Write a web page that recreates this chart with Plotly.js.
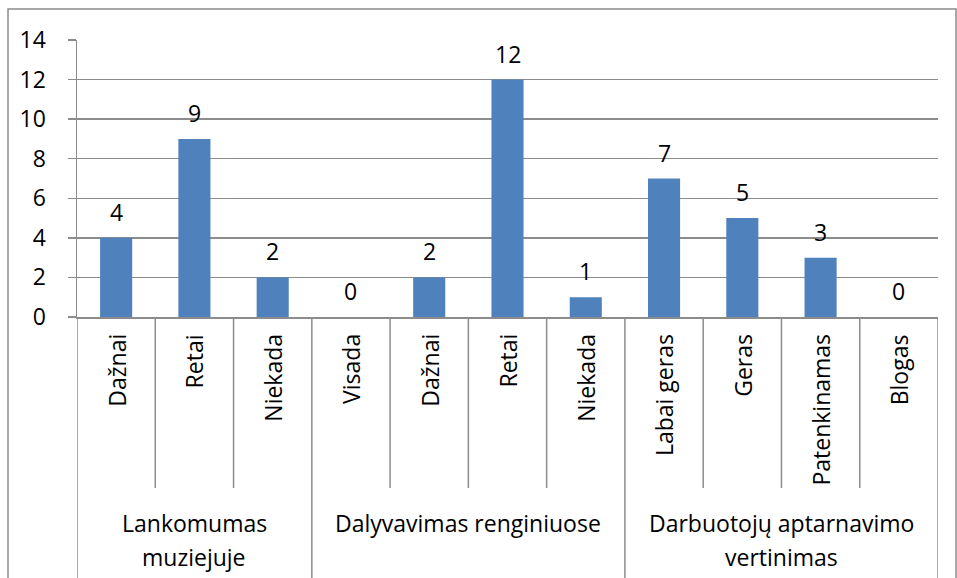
<!DOCTYPE html>
<html><head><meta charset="utf-8">
<script src="https://cdn.plot.ly/plotly-3.0.1.min.js"></script>
<style>html,body{margin:0;padding:0;background:#fff}#c{width:957px;height:578px}</style>
</head><body><div id="c"></div>
<script>
const categories = ["Dažnai","Retai","Niekada","Visada","Dažnai","Retai","Niekada","Labai geras","Geras","Patenkinamas","Blogas"];
const values = [4,9,2,0,2,12,1,7,5,3,0];
const groups = ["Lankomumas<br>muziejuje","Dalyvavimas renginiuose","Darbuotojų aptarnavimo<br>vertinimas"];
const groupSizes = [3,4,4];
const yTicks = [0,2,4,6,8,10,12,14];

const FONT = "'Open Sans', sans-serif";
const GRAY = "#8c8c8c";
const FS = 23;
const xs = categories.map((_, i) => i);
const py = px => (317 - px) / 277;

const annotations = [];
const shapes = [];
values.forEach((v, i) => annotations.push({x: i, y: v, xref: 'x', yref: 'y', text: String(v), showarrow: false, yanchor: 'bottom', yshift: 8, font: {family: FONT, size: FS, color: '#000'}}));
categories.forEach((c, i) => annotations.push({x: i, y: py(332), xref: 'x', yref: 'paper', text: c, textangle: -90, showarrow: false, xanchor: 'center', yanchor: 'top', font: {family: FONT, size: FS, color: '#000'}}));
let start = 0;
groups.forEach((g, k) => {
  const end = start + groupSizes[k];
  g.split('<br>').forEach((line, li) => {
    annotations.push({x: (start + end - 1) / 2, y: py(523 + 34 * li), xref: 'x', yref: 'paper', text: line, showarrow: false, xanchor: 'center', yanchor: 'middle', font: {family: FONT, size: FS, color: '#000'}});
  });
  for (let j = start + 1; j < end; j++) {
    shapes.push({type: 'line', xref: 'x', yref: 'paper', x0: j - 0.5, x1: j - 0.5, y0: 0, y1: py(488), line: {color: GRAY, width: 1.5}});
  }
  start = end;
});
for (let b = 0, s = 0; b <= groups.length; b++) {
  shapes.push({type: 'line', xref: 'x', yref: 'paper', x0: s - 0.5, x1: s - 0.5, y0: 0, y1: py(600), line: {color: GRAY, width: 1.5}});
  if (b < groups.length) s += groupSizes[b];
}
shapes.push({type: 'rect', xref: 'paper', yref: 'paper', x0: (8 - 77) / 861, x1: (956 - 77) / 861, y0: py(600), y1: py(9), line: {color: GRAY, width: 1.5}, fillcolor: 'rgba(0,0,0,0)', layer: 'below'});

Plotly.newPlot('c', [{
  type: 'bar', x: xs, y: values, marker: {color: '#4f81bd'}, width: 0.41, hoverinfo: 'none'
}], {
  width: 957, height: 578,
  margin: {l: 77, r: 19, t: 40, b: 261},
  paper_bgcolor: '#fff', plot_bgcolor: '#fff',
  showlegend: false,
  xaxis: {range: [-0.5, 10.5], showticklabels: false, showgrid: false, zeroline: false, showline: true, linecolor: GRAY, linewidth: 1.5, ticks: '', fixedrange: true},
  yaxis: {range: [0, 14], tickvals: yTicks, ticktext: yTicks.map(String), showgrid: true, gridcolor: GRAY, gridwidth: 1.5, zeroline: false, showline: true, linecolor: GRAY, linewidth: 1.5, ticks: 'outside', ticklen: 8, tickcolor: GRAY, tickwidth: 1.5, ticklabelstandoff: 17, tickfont: {family: FONT, size: FS, color: '#000'}},
  annotations: annotations, shapes: shapes
}, {staticPlot: true});
</script></body></html>
